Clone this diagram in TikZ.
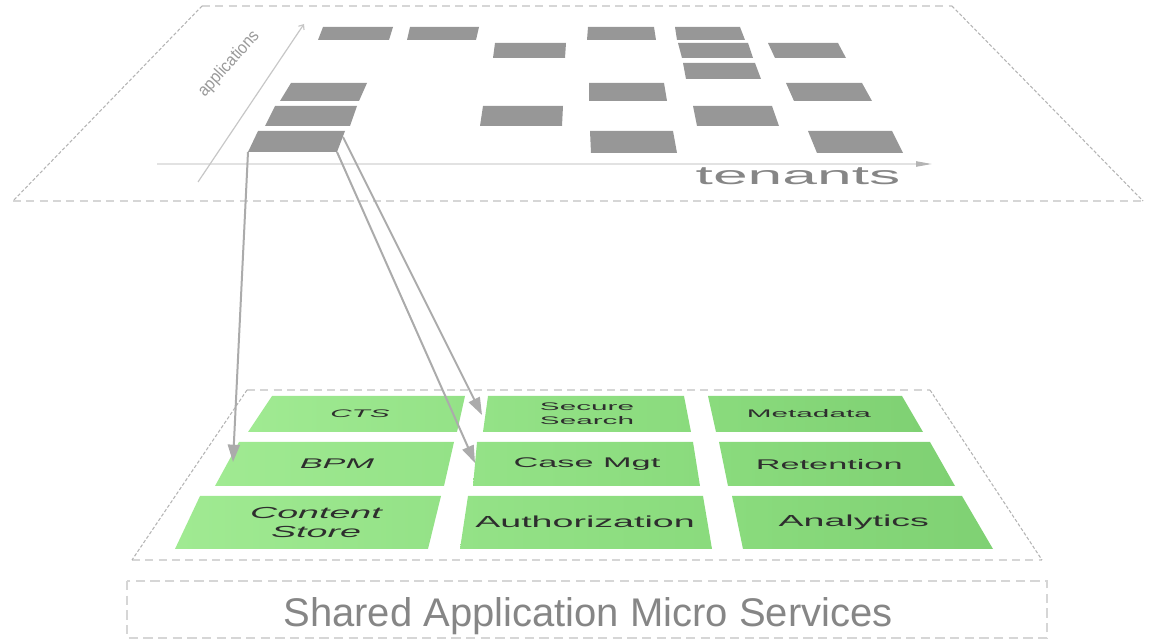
\documentclass[tikz,border=0pt]{standalone}
\usepackage{fontspec}
\setmainfont{Liberation Sans}
\usetikzlibrary{arrows.meta}

\definecolor{apptile}{HTML}{979797}
\definecolor{planeline}{HTML}{D6D6D6}
\definecolor{planeedge}{HTML}{B4B4B4}
\definecolor{linkgray}{HTML}{ABABAB}
\definecolor{axisgray}{HTML}{E2E2E2}
\definecolor{labelgray}{HTML}{868686}
\definecolor{greenA}{HTML}{A0EA92}
\definecolor{greenB}{HTML}{94E287}
\definecolor{greenC}{HTML}{8ADB7D}
\definecolor{greenD}{HTML}{7FD173}
\definecolor{svctext}{HTML}{2E2E2E}

\begin{document}
\begin{tikzpicture}[x=0.75pt, y=-0.75pt,
  plane/.style={draw=planeline, line width=0.9pt, dash pattern=on 6pt off 4pt},
  planeside/.style={draw=planeedge, line width=0.8pt, dash pattern=on 2.5pt off 1.5pt},
  link/.style={draw=linkgray, line width=1.5pt, -{Triangle[length=13pt,width=9pt]}},
  svc/.style n args={4}{text=svctext, align=center, inner sep=0pt, font=\fontsize{#1}{#2}\selectfont#4, xscale=#3}]

 \useasboundingbox (0,0) rectangle (1154,641);

 % tenant plane
 \draw[plane] (202,6) -- (952,6);
 \draw[plane] (13,201) -- (1143,201);
 \draw[planeside] (202,6) -- (13,201);
 \draw[planeside] (952,6) -- (1143,201);

 % axes
 \coordinate (ten-start) at (157,164);
 \coordinate (ten-end) at (932,164);
 \coordinate (app-start) at (198,182);
 \coordinate (app-end) at (304,24);
 \draw[axisgray, line width=0.9pt, -{Triangle[length=12pt,width=4pt,color=planeedge]}] (ten-start) -- (ten-end);
 \draw[black!22, line width=0.9pt, -{Straight Barb[length=3pt,width=5pt]}] (app-start) -- (app-end);

 \node[text=labelgray, font=\fontsize{19.5}{20}\selectfont, xscale=2.4] (tenants) at (798,176) {tenants};
 \node[text=black!40, inner sep=0pt, font=\fontsize{13}{15}\selectfont, cm={0.60,0.67,-0.74,0.67,(0,0)}] (applications) at (229,64) {applications};

 % applications per tenant
 \foreach \ya/\yb/\xa/\xb/\xc/\xd in { 27/40/323/393/389/318, 27/40/410/479/476/407, 27/40/588/654/656/587,
     27/40/675/740/745/677, 43/58/495/566/565/493, 43/58/678/748/753/682, 43/58/768/838/846/775,
     63/79/683/755/761/686, 83/101/291/367/359/280, 83/101/589/664/667/589, 83/101/786/862/872/794,
     106/126/275/357/350/265, 106/126/483/563/562/480, 106/126/693/772/779/697,
     131/153/590/673/677/591, 131/153/808/892/903/817 } {
         \fill[apptile] (\xa,\ya) -- (\xb,\ya) -- (\xc,\yb) -- (\xd,\yb) -- cycle;
 }

 % selected application
 \coordinate (app-tl) at (258,131);
 \coordinate (app-tr) at (345,131);
 \coordinate (app-br) at (337,152);
 \coordinate (app-bl) at (248,152);
 \coordinate (app-rt) at (343,137);
 \fill[apptile] (app-tl) -- (app-tr) -- (app-br) -- (app-bl) -- cycle;

 % services plane
 \draw[plane] (247,390) -- (930,390);
 \draw[plane] (132,560) -- (1042,560);
 \draw[planeside] (247,390) -- (132,560);
 \draw[planeside] (930,390) -- (1042,560);

 %row 1
 \foreach \xa/\xb/\xc/\xd/\lc/\rc/\n/\cx/\sh/\txt in {
     272/465/457/248/greenA/greenB/cts/360/\itshape/CTS,
     488/684/691/483/greenB/greenC/search/587/\upshape/{Secure\\Search},
     708/902/923/716/greenC/greenD/meta/813/\upshape/Metadata } {
         \shade[left color=\lc, right color=\rc] (\xa,396) -- (\xb,396) -- (\xc,432) -- (\xd,432) -- cycle;
         \node[svc={8.25}{10.5}{2.7}{\sh}] (\n) at (\cx,414) {\txt};
 }

 %row 2
 \foreach \xa/\xb/\xc/\xd/\lc/\rc/\n/\cx/\sh/\txt in {
     239/454/444/215/greenA/greenB/bpm/337/\itshape/BPM,
     477/693/700/473/greenB/greenC/case/587/\upshape/Case Mgt,
     719/930/955/728/greenC/greenD/ret/834/\upshape/Retention } {
         \shade[left color=\lc, right color=\rc] (\xa,442) -- (\xb,442) -- (\xc,486) -- (\xd,486) -- cycle;
         \node[svc={10.5}{13}{2.45}{\sh}] (\n) at (\cx,464) {\txt};
 }

 %row 3
 \foreach \xa/\xb/\xc/\xd/\lc/\rc/\n/\cx/\sh/\txt in {
     200/441/428/175/greenA/greenB/store/316/\itshape/{Content\\Store},
     468/703/712/460/greenB/greenC/auth/585/\upshape/Authorization,
     732/962/993/743/greenC/greenD/anly/859/\upshape/Analytics } {
         \shade[left color=\lc, right color=\rc] (\xa,496) -- (\xb,496) -- (\xc,549) -- (\xd,549) -- cycle;
         \node[svc={12}{14.25}{2.35}{\sh}] (\n) at (\cx,522) {\txt};
 }

 % links
 \coordinate (bpm-in) at (233,462);
 \coordinate (case-in) at (475,463);
 \coordinate (search-in) at (482,415);
 \draw[link] (app-bl) -- (bpm-in);
 \draw[link] (app-br) -- (case-in);
 \draw[link] (app-rt) -- (search-in);

 % caption
 \draw[draw=planeline, line width=1.5pt, dash pattern=on 7pt off 4pt] (127,581) rectangle (1047,638);
 \node[text=labelgray, font=\fontsize{30}{36}\selectfont, anchor=base] (shared) at (588,626) {Shared Application Micro Services};

\end{tikzpicture}
\end{document}
